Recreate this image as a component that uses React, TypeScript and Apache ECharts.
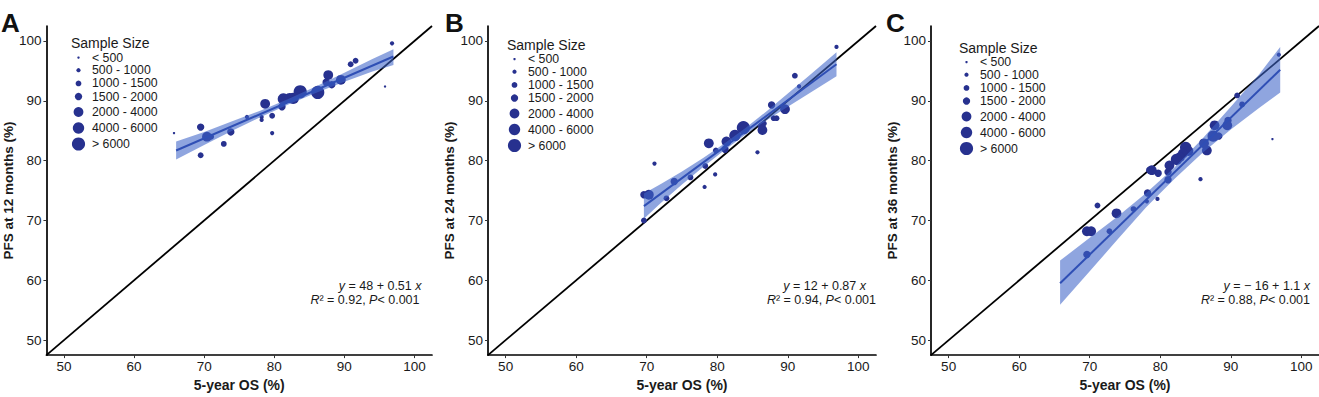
import React, { useEffect, useRef } from "react";
import * as echarts from "echarts";

// ---------- shared data ----------
const sizeLabels = ["< 500", "500 - 1000", "1000 - 1500", "1500 - 2000", "2000 - 4000", "4000 - 6000", "> 6000"];
const sizeDiameters = [2.4, 4.2, 5.8, 7.4, 9.8, 11.4, 13.2];
const tickValues = [50, 60, 70, 80, 90, 100];
const axisMin = 47.5;
const axisMax = 102.5;
const identityLine = [[47.5, 47.5], [102.5, 102.5]];
const xTitle = "5-year OS (%)";
const panelLetters = ["A", "B", "C"];
const yTitles = ["PFS at 12 months (%)", "PFS at 24 months (%)", "PFS at 36 months (%)"];

// ---------- panel A (PFS 12 months) : [OS, PFS, size class] ----------
const pointsA = [
  [65.7, 84.6, 0], [69.5, 85.6, 3], [69.5, 80.9, 2], [70.4, 84.0, 4], [71.0, 84.0, 2],
  [72.8, 82.8, 2], [73.8, 84.8, 3], [76.1, 87.3, 1], [78.2, 87.3, 1], [78.2, 86.8, 1],
  [78.7, 89.5, 4], [79.7, 87.5, 2], [79.7, 84.6, 1], [81.1, 89.0, 3], [81.3, 90.3, 5],
  [82.2, 90.5, 4], [82.7, 90.4, 5], [83.7, 91.5, 6], [86.2, 91.4, 6], [87.7, 94.3, 4],
  [87.4, 93.1, 3], [88.2, 92.7, 3], [89.5, 93.5, 4], [90.9, 96.1, 2], [91.6, 96.7, 2],
  [95.8, 92.4, 0], [96.8, 99.6, 1],
];
const fitA = [[66, 81.7], [97, 97.4]];
const bandXA = [66, 70, 74, 78, 82, 86, 90, 94, 97];
const bandLowA = [80.2, 82.6, 85.0, 87.25, 89.4, 91.35, 93.2, 94.9, 96.0];
const bandHighA = [83.2, 84.8, 86.6, 88.35, 90.3, 92.45, 94.7, 97.0, 98.6];
const eqA = ["{i|y} = 48 + 0.51 {i|x}", "{i|R}² = 0.92, {i|P}< 0.001"];

// ---------- panel B (PFS 24 months) ----------
const pointsB = [
  [96.9, 99.0, 1], [91.0, 94.2, 2], [91.6, 92.4, 1], [87.7, 89.3, 3], [89.6, 88.6, 4],
  [88.4, 87.1, 2], [88.0, 87.1, 2], [86.4, 85.1, 4], [86.3, 85.8, 3], [86.6, 86.2, 2],
  [85.7, 81.4, 1], [83.7, 85.5, 6], [82.5, 84.2, 5], [81.3, 83.2, 4], [81.1, 81.9, 3],
  [79.8, 81.7, 2], [78.8, 82.9, 4], [78.3, 79.1, 2], [79.7, 77.7, 1], [78.2, 75.6, 1],
  [76.2, 77.2, 2], [73.9, 76.5, 3], [71.1, 79.5, 1], [72.8, 73.7, 2], [69.6, 74.3, 3],
  [70.3, 74.3, 4], [69.6, 70.0, 2],
];
const fitB = [[69.6, 72.4], [96.9, 96.1]];
const bandXB = [69.6, 72, 75, 78, 81, 84, 87, 90, 93, 96.9];
const bandLowB = [70.3, 72.9, 76.0, 78.95, 81.75, 84.35, 86.75, 89.0, 91.2, 94.1];
const bandHighB = [74.5, 76.1, 78.2, 80.45, 82.85, 85.45, 88.25, 91.2, 94.2, 98.1];
const eqB = ["{i|y} = 12 + 0.87 {i|x}", "{i|R}² = 0.94, {i|P}< 0.001"];

// ---------- panel C (PFS 36 months) ----------
const pointsC = [
  [96.8, 97.7, 1], [90.9, 90.9, 2], [91.6, 89.4, 2], [95.9, 83.6, 0], [89.6, 86.7, 3],
  [89.5, 85.9, 4], [87.7, 85.9, 4], [87.5, 84.1, 5], [88.3, 84.1, 3], [86.2, 82.9, 4],
  [86.6, 81.7, 4], [85.7, 76.9, 1], [83.6, 82.2, 5], [84.0, 81.6, 4], [83.2, 81.2, 4],
  [82.8, 80.6, 4], [82.3, 80.2, 5], [81.3, 79.2, 4], [81.1, 78.1, 3], [81.1, 76.8, 3],
  [79.7, 77.9, 3], [78.8, 78.4, 4], [78.5, 78.4, 3], [79.6, 73.6, 1], [78.2, 74.6, 3],
  [78.1, 73.2, 1], [76.2, 71.9, 2], [73.8, 71.2, 4], [71.1, 72.5, 2], [72.8, 68.2, 2],
  [69.6, 68.2, 4], [70.2, 68.2, 4], [69.6, 64.3, 3],
];
const fitC = [[65.8, 59.5], [97.0, 95.2]];
const bandXC = [65.8, 70, 74, 78, 82, 86, 90, 94, 97];
const bandLowC = [55.9, 61.5, 66.9, 72.2, 76.95, 81.3, 85.2, 88.8, 91.4];
const bandHighC = [63.3, 67.1, 70.7, 74.6, 78.85, 83.7, 89.0, 94.4, 99.0];
const eqC = ["{i|y} = − 16 + 1.1 {i|x}", "{i|R}² = 0.88, {i|P}< 0.001"];

// ---------- layout / style ----------
const FONT = "'Liberation Sans', Arial, Helvetica, sans-serif";
const POINT_COLOR = "#27318f";
const BAND_COLOR = "rgba(62,100,200,0.58)";
const FIT_COLOR = "#2f4fb5";
const TEXT_COLOR = "#1a1a1a";

const panels = [
  { points: pointsA, fit: fitA, bx: bandXA, bl: bandLowA, bh: bandHighA, eq: eqA,
    left: 44, legend: [71, 43], letterX: 1, eqRight: [421.5, 419.5] },
  { points: pointsB, fit: fitB, bx: bandXB, bl: bandLowB, bh: bandHighB, eq: eqB,
    left: 488, legend: [507, 44.5], letterX: 445, eqRight: [866, 876] },
  { points: pointsC, fit: fitC, bx: bandXC, bl: bandLowC, bh: bandHighC, eq: eqC,
    left: 931, legend: [959, 47.5], letterX: 886, eqRight: [1310, 1310] },
];
const GRID_TOP = 26;
const GRID_W = 388;
const GRID_H = 337;
const legendDy = [14.6, 27.2, 40.4, 53.6, 69, 85, 101];
const LEGEND_FS = 12.3;

function buildOption() {
  const grid: any[] = [];
  const xAxis: any[] = [];
  const yAxis: any[] = [];
  const series: any[] = [];
  const graphic: any[] = [];

  panels.forEach((p, idx) => {
    grid.push({ left: p.left, top: GRID_TOP, width: GRID_W, height: GRID_H, containLabel: false });
    const axisCommon = {
      type: "value",
      min: axisMin,
      max: axisMax,
      splitLine: { show: false },
      axisLine: { show: true, onZero: false, lineStyle: { color: "#000", width: 1.7 } },
      axisTick: { show: true, length: 3, inside: false, customValues: tickValues, lineStyle: { color: "#333", width: 1 } },
    };
    xAxis.push({
      ...axisCommon,
      gridIndex: idx,
      axisLabel: { customValues: tickValues, margin: 4, fontSize: 13.5, color: TEXT_COLOR, fontFamily: FONT },
      name: xTitle,
      nameLocation: "middle",
      nameGap: 18,
      nameTextStyle: { fontSize: 14, fontWeight: "bold", color: TEXT_COLOR, fontFamily: FONT },
    });
    yAxis.push({
      ...axisCommon,
      gridIndex: idx,
      axisLabel: { customValues: tickValues, margin: 5, fontSize: 13.5, color: TEXT_COLOR, fontFamily: FONT },
      name: yTitles[idx],
      nameLocation: "middle",
      nameGap: 29,
      nameTextStyle: { fontSize: 13.5, fontWeight: "bold", color: TEXT_COLOR, fontFamily: FONT },
    });

    series.push({
      type: "line",
      xAxisIndex: idx,
      yAxisIndex: idx,
      data: identityLine,
      symbol: "none",
      silent: true,
      z: 1,
      lineStyle: { color: "#000", width: 1.8 },
    });
    series.push({
      type: "scatter",
      xAxisIndex: idx,
      yAxisIndex: idx,
      data: p.points,
      symbol: "circle",
      symbolSize: (v: number[]) => sizeDiameters[v[2]],
      itemStyle: { color: POINT_COLOR, opacity: 1 },
      z: 2,
    });
    const xs = p.bx, lo = p.bl, hi = p.bh;
    series.push({
      type: "custom",
      xAxisIndex: idx,
      yAxisIndex: idx,
      silent: true,
      z: 3,
      data: xs.map((x, i) => [x, lo[i], hi[i]]),
      encode: { x: 0, y: [1, 2] },
      renderItem: (params: any, api: any) => {
        if (params.dataIndex !== 0) return { type: "group", children: [] };
        const top = xs.map((x, i) => api.coord([x, hi[i]]));
        const bottom = xs.map((x, i) => api.coord([x, lo[i]])).reverse();
        return { type: "polygon", shape: { points: top.concat(bottom) }, style: { fill: BAND_COLOR } };
      },
    });
    series.push({
      type: "line",
      xAxisIndex: idx,
      yAxisIndex: idx,
      data: p.fit,
      symbol: "none",
      silent: true,
      z: 4,
      lineStyle: { color: FIT_COLOR, width: 2 },
    });

    // panel letter
    graphic.push({
      type: "text",
      x: p.letterX,
      y: 23,
      style: { text: panelLetters[idx], fontSize: 26, fontWeight: "bold", fontFamily: FONT, fill: "#111", align: "left", verticalAlign: "middle" },
    });
    // legend
    const [lx, ly] = p.legend;
    graphic.push({
      type: "text",
      x: lx,
      y: ly,
      style: { text: "Sample Size", fontSize: 14, lineHeight: 14, fontFamily: FONT, fill: TEXT_COLOR, align: "left", verticalAlign: "middle" },
    });
    sizeLabels.forEach((lab, k) => {
      graphic.push({
        type: "circle",
        shape: { cx: lx + 7.5, cy: ly + legendDy[k], r: sizeDiameters[k] / 2 },
        style: { fill: POINT_COLOR },
      });
      graphic.push({
        type: "text",
        x: lx + 21,
        y: ly + legendDy[k],
        style: { text: lab, fontSize: LEGEND_FS, lineHeight: LEGEND_FS, fontFamily: FONT, fill: TEXT_COLOR, align: "left", verticalAlign: "middle" },
      });
    });
    // equation annotations
    p.eq.forEach((line, k) => {
      graphic.push({
        type: "text",
        x: p.eqRight[k],
        y: 285.7 + k * 14.3,
        style: {
          text: line,
          fontSize: 12.5,
          lineHeight: 13,
          fontFamily: FONT,
          fill: TEXT_COLOR,
          align: "right",
          verticalAlign: "middle",
          rich: { i: { fontStyle: "italic", fontSize: 12.5, lineHeight: 13, fontFamily: FONT, fill: TEXT_COLOR } },
        },
      });
    });
  });

  return {
    animation: false,
    backgroundColor: "#ffffff",
    grid,
    xAxis,
    yAxis,
    series,
    graphic,
  };
}

export default function App() {
  const ref = useRef<HTMLDivElement>(null);
  useEffect(() => {
    if (!ref.current) return;
    const chart = echarts.init(ref.current, undefined, { renderer: "svg" });
    chart.setOption(buildOption() as any);
    return () => {
      chart.dispose();
    };
  }, []);
  return (
    <div
      ref={ref}
      style={{ position: "fixed", left: 0, top: 0, width: 1319, height: 397, background: "#fff" }}
    />
  );
}
